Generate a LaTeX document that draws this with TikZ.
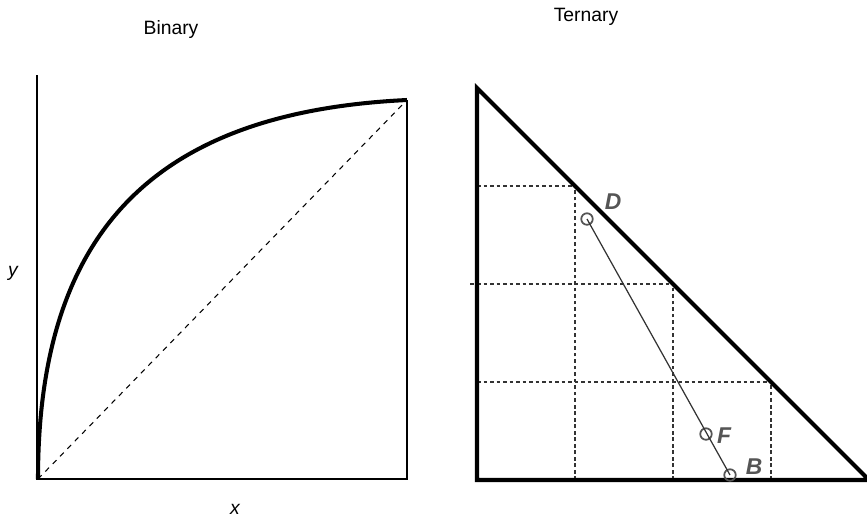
\documentclass[tikz,border=0pt]{standalone}
\usepackage{fontspec}
\setmainfont{Liberation Sans}
\usetikzlibrary{positioning}
\definecolor{markgray}{RGB}{85,85,85}

\begin{document}
\begin{tikzpicture}[x=0.02cm, y=-0.02cm,
    axisline/.style={line width=1.2pt},
    thickline/.style={line width=2.3pt},
    gridline/.style={dash pattern=on 2.2pt off 1.5pt, line width=0.6pt, black!80},
    title/.style={font=\fontsize{11}{13}\selectfont, anchor=base},
    axlabel/.style={font=\fontsize{11}{13}\selectfont\itshape},
    dot/.style={circle, draw=markgray, line width=1pt, minimum size=0.23cm, inner sep=0pt},
    dotlabel/.style={font=\fontsize{13}{15}\selectfont\bfseries\itshape, text=markgray}]
    \useasboundingbox (0,0) rectangle (867,522);
    \clip (0,0) rectangle (867,522);
    % Binary
    \coordinate (bo) at (37,479);
    \coordinate (bstart) at (38,479);
    \coordinate (btop) at (37,75);
    \coordinate (bx) at (407,479);
    \coordinate (bend) at (407,100);
    \draw[axisline] (btop) -- (bo) -- (bx) -- (bend);
    \draw[dashed, line width=0.6pt] (bstart) -- (bend);
    \draw[thickline] (bstart) .. controls (38,229) and (157,112) .. (bend);
    \node[title] (binary) at (171,34) {Binary};
    \node[axlabel] (ylab) at (13,273) {y};
    \node[axlabel] (xlab) at (235,509) {x};
    % Ternary
    \coordinate (ttop) at (477,88);
    \coordinate (tleft) at (477,480);
    \coordinate (tright) at (869,480);
    \foreach \i in {1,2,3} {
        \draw[gridline] (477+98*\i,480) -- (477+98*\i,88+98*\i);
        \draw[gridline] (477,88+98*\i) -- (477+98*\i,88+98*\i);
    }
    \draw[gridline] (470,284) -- (477,284);
    \draw[thickline, line join=miter] (ttop) -- (tleft) -- (tright) -- cycle;
    \node[title] (ternary) at (586,21) {Ternary};
    % Points
    \node[dot] (pD) at (587,219) {};
    \node[dot] (pF) at (706,434) {};
    \node[dot] (pB) at (730,475) {};
    \draw[black!80, line width=0.7pt] (pD.center) -- (pB.center);
    \node[dotlabel] (lD) at (613,202) {D};
    \node[dotlabel] (lF) at (724,436) {F};
    \node[dotlabel] (lB) at (754,467) {B};
\end{tikzpicture}
\end{document}
